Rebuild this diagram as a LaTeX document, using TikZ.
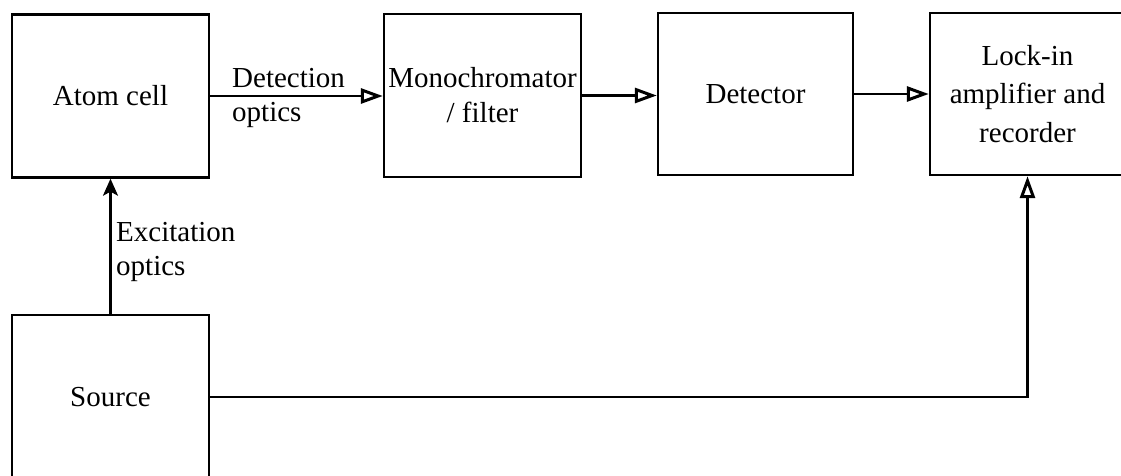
\documentclass[tikz,border=0pt]{standalone}
\usepackage{fontspec}
\setmainfont{Liberation Serif}
\usetikzlibrary{arrows.meta}
\tikzset{
  blk/.style={draw, line width=2.4pt, minimum width=197pt, minimum height=163pt, inner sep=0pt, align=center, font=\fontsize{29}{35}\selectfont},
  lbl/.style={inner sep=0pt, align=left, font=\fontsize{29}{34}\selectfont},
  conn/.style={line width=2.2pt, -{Triangle[open, length=22pt, width=15pt, line width=3pt]}},
  filledconn/.style={line width=2.2pt, -{Stealth[length=17pt, width=15pt, inset=4pt]}},
  plainline/.style={line width=2.2pt}
}
\begin{document}
\begin{tikzpicture}[x=1pt, y=-1pt]
\useasboundingbox (0,0) rectangle (1121,476);
\node[blk] (atom) at (110.5,96) {Atom cell};
\node[blk] (mono) at (482.5,95.5) {Monochromator\\/ filter};
\node[blk, minimum width=195pt, minimum height=162pt] (det) at (755.5,94) {Detector};
\node[blk, minimum width=195pt, minimum height=162pt, font=\fontsize{29}{38.5}\selectfont] (lock) at (1027.5,94) {Lock-in\\amplifier and\\recorder};
\node[blk, minimum height=164pt] (src) at (110.5,397) {Source};
\draw[conn] (atom.east) -- (atom.east -| mono.west);
\draw[conn] (mono.east) -- (mono.east -| det.west);
\draw[conn] (det.east) -- (det.east -| lock.west);
\draw[filledconn] (src.north) -- (atom.south);
\draw[conn] (src.east) -| (lock.south);
\node[lbl, anchor=west] (detlbl) at (232,98) {Detection\\optics};
\node[lbl, anchor=west] (exclbl) at (116,252) {Excitation\\optics};
\end{tikzpicture}
\end{document}
